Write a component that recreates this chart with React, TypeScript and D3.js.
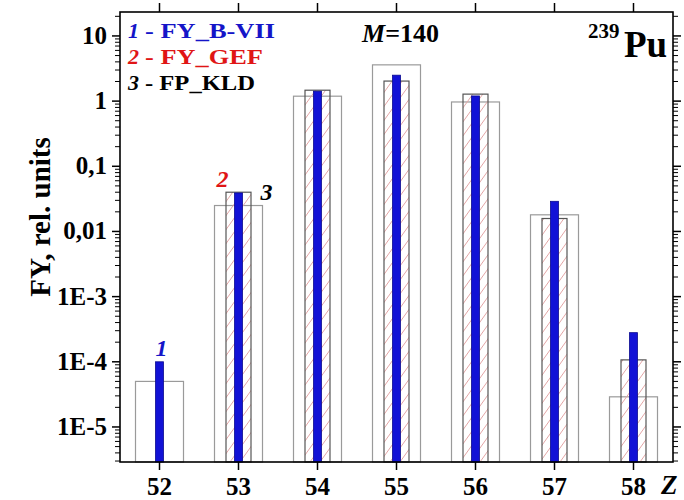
import React from "react";
import * as d3 from "d3";

const Z = [52, 53, 54, 55, 56, 57, 58];
const fyBVII = [1.0e-4, 0.039, 1.42, 2.5, 1.2, 0.029, 2.8e-4];
const fyGEF: (number | null)[] = [null, 0.04, 1.47, 2.03, 1.28, 0.0158, 1.07e-4];
const fpKLD = [5.0e-5, 0.025, 1.19, 3.6, 0.97, 0.018, 2.9e-5];
const yTicks = [1e-5, 1e-4, 1e-3, 0.01, 0.1, 1, 10];
const yTickLabels = ["1E-5", "1E-4", "1E-3", "0,01", "0,1", "1", "10"];
const legendNums = ["1", "2", "3"];
const legendNames = ["- FY_B-VII", "- FY_GEF", "- FP_KLD"];
const legendColors = ["#1515c8", "#e01515", "#000"];

const W = 684;
const H = 500;
const L = 120, R = 673, T = 12, B = 462;
const FONT = '"Liberation Serif", "Times New Roman", Times, serif';

export default function App() {
  const x = d3.scaleLinear().domain([51.5, 58.5]).range([L, R]);
  const y = d3.scaleLog().domain([2.9e-6, 23.3]).range([B, T]);

  const minor: number[] = [];
  for (let e = -6; e <= 1; e++) {
    for (let m = 2; m <= 9; m++) {
      const v = m * Math.pow(10, e);
      if (v > 2.9e-6 && v < 23.3) minor.push(v);
    }
  }

  const kldW = 48, gefW = 25, bW = 8;
  const legBase = [38, 64, 90];
  const legLen = [130, 118, 110];

  return (
    <svg width={W} height={H} style={{ position: "absolute", left: 0, top: 0, background: "#fff", fontFamily: FONT }}>
      <defs>
        <pattern id="hatch" patternUnits="userSpaceOnUse" width={10} height={14}>
          <path d="M-10,14 L0,0 M0,14 L10,0 M10,14 L20,0" stroke="#e3a6a6" strokeWidth={1} fill="none" />
        </pattern>
      </defs>
      <rect x={0} y={0} width={W} height={H} fill="#fff" />

      {Z.map((z, i) => (
        <rect key={"k" + z} x={x(z) - kldW / 2} y={y(fpKLD[i])} width={kldW} height={B - y(fpKLD[i])}
          fill="none" stroke="#9a9a9a" strokeWidth={1.2} />
      ))}
      {Z.map((z, i) => fyGEF[i] == null ? null : (
        <rect key={"g" + z} x={x(z) - gefW / 2} y={y(fyGEF[i] as number)} width={gefW} height={B - y(fyGEF[i] as number)}
          fill="url(#hatch)" stroke="#555" strokeWidth={1.2} />
      ))}
      {Z.map((z, i) => (
        <rect key={"b" + z} x={x(z) - bW / 2} y={y(fyBVII[i])} width={bW} height={B - y(fyBVII[i])}
          fill="#1212d6" stroke="#0a0a90" strokeWidth={0.8} />
      ))}

      <rect x={L} y={T} width={R - L} height={B - T} fill="none" stroke="#000" strokeWidth={1.6} />

      {Z.map((z) => (
        <g key={"xt" + z}>
          <line x1={x(z)} x2={x(z)} y1={B} y2={B + 8} stroke="#000" strokeWidth={1.5} />
          <line x1={x(z)} x2={x(z)} y1={T} y2={T - 9} stroke="#000" strokeWidth={1.5} />
          <text x={x(z)} y={495} textAnchor="middle" fontSize={25} fontWeight="bold">{z}</text>
        </g>
      ))}
      {yTicks.map((v, i) => (
        <g key={"yt" + v}>
          <line x1={L - 8} x2={L} y1={y(v)} y2={y(v)} stroke="#000" strokeWidth={1.5} />
          <line x1={R} x2={R + 8} y1={y(v)} y2={y(v)} stroke="#000" strokeWidth={1.5} />
          <text x={107} y={y(v) + 8} textAnchor="end" fontSize={25} fontWeight="bold">{yTickLabels[i]}</text>
        </g>
      ))}
      {minor.map((v) => (
        <g key={"ym" + v}>
          <line x1={L - 5} x2={L} y1={y(v)} y2={y(v)} stroke="#000" strokeWidth={1} />
          <line x1={R} x2={R + 5} y1={y(v)} y2={y(v)} stroke="#000" strokeWidth={1} />
        </g>
      ))}

      <text transform={`translate(50,${217}) rotate(-90)`} textAnchor="middle" fontSize={29} fontWeight="bold">FY, rel. units</text>
      <text x={661} y={494} fontSize={27} fontStyle="italic" fontWeight="bold">Z</text>

      {legendNums.map((n, i) => (
        <g key={"leg" + n}>
          <text x={128} y={legBase[i]} fontSize={22} fontWeight="bold" fontStyle="italic" fill={legendColors[i]}>{n}</text>
          <text x={145} y={legBase[i]} fontSize={22} fontWeight="bold" fill={legendColors[i]}
            textLength={legLen[i]} lengthAdjust="spacingAndGlyphs">{legendNames[i]}</text>
        </g>
      ))}

      <text x={362} y={42} fontSize={26} fontWeight="bold">
        <tspan fontStyle="italic">M</tspan>=140
      </text>
      <text x={588} y={38} fontSize={21} fontWeight="bold">239</text>
      <text x={624} y={57} fontSize={37} fontWeight="bold">Pu</text>

      <text x={x(52) + 2} y={y(fyBVII[0]) - 6} textAnchor="middle" fontSize={24} fontWeight="bold" fontStyle="italic" fill="#1515c8">1</text>
      <text x={x(53) - 16} y={187} textAnchor="middle" fontSize={24} fontWeight="bold" fontStyle="italic" fill="#e01515">2</text>
      <text x={x(53) + 28} y={200} textAnchor="middle" fontSize={24} fontWeight="bold" fontStyle="italic" fill="#000">3</text>
    </svg>
  );
}
